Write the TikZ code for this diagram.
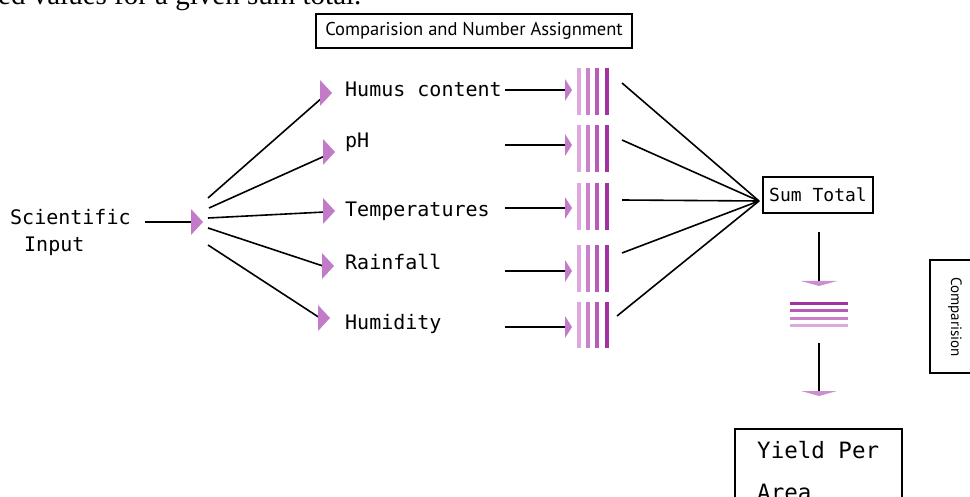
\documentclass[tikz,border=0pt]{standalone}
\usepackage{fontspec}
\setmainfont{Liberation Serif}
\newfontfamily\monof{DejaVu Sans Mono}
\newfontfamily\sansf{PT Sans}
\definecolor{headc}{HTML}{C27BC8}
\definecolor{barA}{HTML}{DDA8DD}
\definecolor{barB}{HTML}{CB80CB}
\definecolor{barC}{HTML}{B85AB8}
\definecolor{barD}{HTML}{A2329F}
\tikzset{
  headR/.pic={\fill[headc] (0,0) -- (-12,-13) -- (-12,13) -- cycle;},
  headS/.pic={\fill[headc] (0,0) -- (-7,-11) -- (-7,11) -- cycle;},
  headD/.pic={\fill[headc!85] (0,0) -- (-18,-5) -- (18,-5) -- cycle;},
  mono/.style={font=\monof\fontsize{20}{24}\selectfont, inner sep=0pt, anchor=base west},
  conn/.style={line width=1.6pt, black},
  boxed/.style={draw=black, line width=1.6pt, inner sep=0pt},
}
\begin{document}
\begin{tikzpicture}[x=1pt,y=-1pt]
\useasboundingbox (0,0) rectangle (970,497);
\clip (0,0) rectangle (970,497);

% partial text from surrounding page
\node[anchor=base west, inner sep=0pt, font=\fontsize{29}{32}\selectfont] (toptext) at (-2,5) {ed values for a given sum total.};

% title
\node[boxed, line width=1.4pt, font=\sansf\fontsize{18.5}{21}\selectfont, minimum width=316pt, minimum height=34pt] (title) at (474,31) {Comparision and Number Assignment};

% scientific input
\node[mono] (sci) at (10,225) {Scientific};
\node[mono] (inp) at (24,252) {Input};
\coordinate (sciA) at (145,222);
\coordinate (sciB) at (191,222);
\draw[conn] (sciA) -- (sciB);
\pic (hsci) at (203,222) {headR};

% fan
\coordinate (s1) at (208,198); \coordinate (e1) at (323,97);
\coordinate (s2) at (209,208); \coordinate (e2) at (327,155);
\coordinate (s3) at (208,218); \coordinate (e3) at (325,212);
\coordinate (s4) at (208,228); \coordinate (e4) at (323,266);
\coordinate (s5) at (208,245); \coordinate (e5) at (320,318);
\foreach \i in {1,...,5} \draw[conn] (s\i) -- (e\i);
\pic (h1) at (332,93) {headR};
\pic (h2) at (335,152) {headR};
\pic (h3) at (335,211) {headR};
\pic (h4) at (334,266) {headR};
\pic (h5) at (330,318) {headR};

% labels
\node[mono] (l1) at (345,97) {Humus content};
\node[mono] (l2) at (345,148) {pH};
\node[mono] (l3) at (345,217) {Temperatures};
\node[mono] (l4) at (345,270) {Rainfall};
\node[mono] (l5) at (345,330) {Humidity};

% label -> bars
\foreach \i/\y in {1/90,2/145,3/208,4/271,5/327}{
  \coordinate (la\i) at (505,\y);
  \coordinate (lb\i) at (566,\y);
  \draw[conn] (la\i) -- (lb\i);
  \pic at (572,\y) {headS};
}

% bar groups
\foreach \t/\b in {68/115,125/172,183/230,245/292,302/348}{
  \fill[barA] (577,\t) rectangle (581,\b);
  \fill[barB] (586,\t) rectangle (590,\b);
  \fill[barC] (595,\t) rectangle (599,\b);
  \fill[barD] (605,\t) rectangle (609,\b);
}

% sum total
\node[boxed, font=\monof\fontsize{18}{20}\selectfont, minimum width=110pt, minimum height=36pt] (sum) at (818,195) {Sum Total};
\coordinate (conv) at (759,201);
\coordinate (b1) at (622,83);
\coordinate (b2) at (622,140);
\coordinate (b3) at (622,200);
\coordinate (b4) at (622,253);
\coordinate (b5) at (617,316);
\foreach \i in {1,...,5} \draw[conn] (b\i) -- (conv);

% down arrow 1
\coordinate (d1a) at (819,232);
\coordinate (d1b) at (819,281);
\draw[conn] (d1a) -- (d1b);
\pic (hd1) at (819,286) {headD};

% horizontal bars
\fill[barD] (790,302) rectangle (848,305);
\fill[barC] (790,309.5) rectangle (848,312.5);
\fill[barB] (790,317) rectangle (848,320);
\fill[barA] (790,324.5) rectangle (848,327.5);

% down arrow 2
\coordinate (d2a) at (819,343);
\coordinate (d2b) at (819,391);
\draw[conn] (d2a) -- (d2b);
\pic (hd2) at (819,396) {headD};

% yield box
\draw[boxed] (735,429) rectangle (902,520);
\node[mono, font=\monof\fontsize{22.5}{26}\selectfont] (y1) at (757,458) {Yield Per};
\node[mono, font=\monof\fontsize{22.5}{26}\selectfont] (y2) at (757,500) {Area};

% comparision side box
\draw[boxed] (930,260) rectangle (990,373);
\node[inner sep=0pt, font=\sansf\fontsize{15}{18}\selectfont, rotate=-90] (cmp) at (955,317) {Comparision};
\end{tikzpicture}
\end{document}
